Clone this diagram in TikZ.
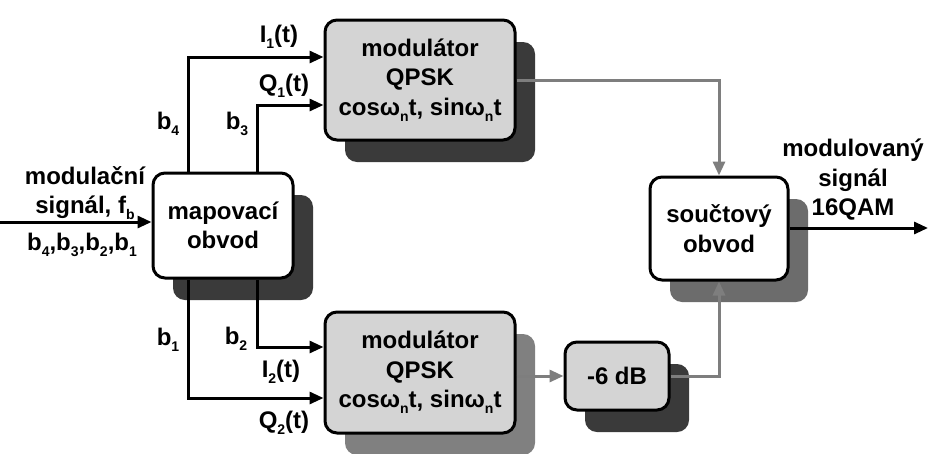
\documentclass[tikz,border=0pt]{standalone}
\usepackage{fontspec}
\setmainfont{Liberation Sans}
\usetikzlibrary{arrows.meta,shadows}
\newcommand\sbs[1]{\raisebox{-0.45ex}{\fontsize{14}{14}\selectfont #1}}
\definecolor{shdark}{HTML}{3A3A3A}
\definecolor{shmid}{HTML}{6C6C6C}
\definecolor{shlight}{HTML}{808080}
\definecolor{boxgray}{HTML}{D4D4D4}
\definecolor{wiregray}{HTML}{7E7E7E}
\begin{document}
\begin{tikzpicture}[x=1pt,y=-1pt,
  every node/.style={font=\fontsize{24}{29.5}\selectfont\bfseries, inner sep=0pt},
  blk/.style={draw=black, line width=3pt, rounded corners=12pt, align=center},
  shd/.style={drop shadow={shadow xshift=20pt, shadow yshift=-22pt, fill=#1, opacity=1}},
  wire/.style={line width=3pt, -{Triangle[length=14pt,width=12pt]}},
  gwire/.style={wire, draw=wiregray, color=wiregray},
  lbl/.style={align=center}
]
\useasboundingbox (0,0) rectangle (934,453);
\fill[white] (0,0) rectangle (934,453);

% boxes
\node[blk, shd=shdark, fill=white, minimum width=140pt, minimum height=105pt] (map) at (223,225.5) {mapovací\\obvod};
\node[blk, shd=shdark, fill=boxgray, minimum width=190pt, minimum height=120pt] (mt) at (420,80) {modulátor\\QPSK\\cosω\sbs{n}t, sinω\sbs{n}t};
\node[blk, shd=shlight, fill=boxgray, minimum width=190pt, minimum height=121pt] (mb) at (420,372.5) {modulátor\\QPSK\\cosω\sbs{n}t, sinω\sbs{n}t};
\node[blk, shd=shdark, fill=boxgray, minimum width=104pt, minimum height=68pt] (db) at (617,376) {-6 dB};
\node[blk, shd=shmid, fill=white, minimum width=138pt, minimum height=103pt] (sum) at (719,228.5) {součtový\\obvod};

% helper coordinates
\coordinate (in) at (0,222);
\coordinate (out) at (928,228);
\coordinate (xa) at (188,0);
\coordinate (xb) at (257,0);
\coordinate (y1) at (0,57);
\coordinate (y2) at (0,105);
\coordinate (y3) at (0,347);
\coordinate (y4) at (0,398);

% black connectors
\draw[wire] (in) -- (in -| map.west);
\draw[wire] (xa |- map.north) |- (mt.west |- y1);
\draw[wire] (xb |- map.north) |- (mt.west |- y2);
\draw[wire] (xb |- map.south) |- (mb.west |- y3);
\draw[wire] (xa |- map.south) |- (mb.west |- y4);
\draw[wire] (sum.east |- out) -- (out);

% gray connectors
\draw[gwire] (mt.east) -| (sum.north);
\draw[gwire] (mb.east |- db.west) -- (db.west);
\draw[gwire] (db.east) -| (sum.south);

% labels
\node (lI1) at (279,37) {I\sbs{1}(t)};
\node (lQ1) at (284,86) {Q\sbs{1}(t)};
\node (lb4) at (168,124) {b\sbs{4}};
\node (lb3) at (237,124) {b\sbs{3}};
\node (lb1) at (168,340) {b\sbs{1}};
\node (lb2) at (236,339) {b\sbs{2}};
\node (lI2) at (281,372) {I\sbs{2}(t)};
\node (lQ2) at (284,423) {Q\sbs{2}(t)};
\node[lbl] (lin) at (85,193) {modulační\\signál, f\sbs{b}};
\node (lbits) at (82,245) {b\sbs{4},b\sbs{3},b\sbs{2},b\sbs{1}};
\node[lbl] (lout) at (853,180) {modulovaný\\signál\\16QAM};
\end{tikzpicture}
\end{document}
